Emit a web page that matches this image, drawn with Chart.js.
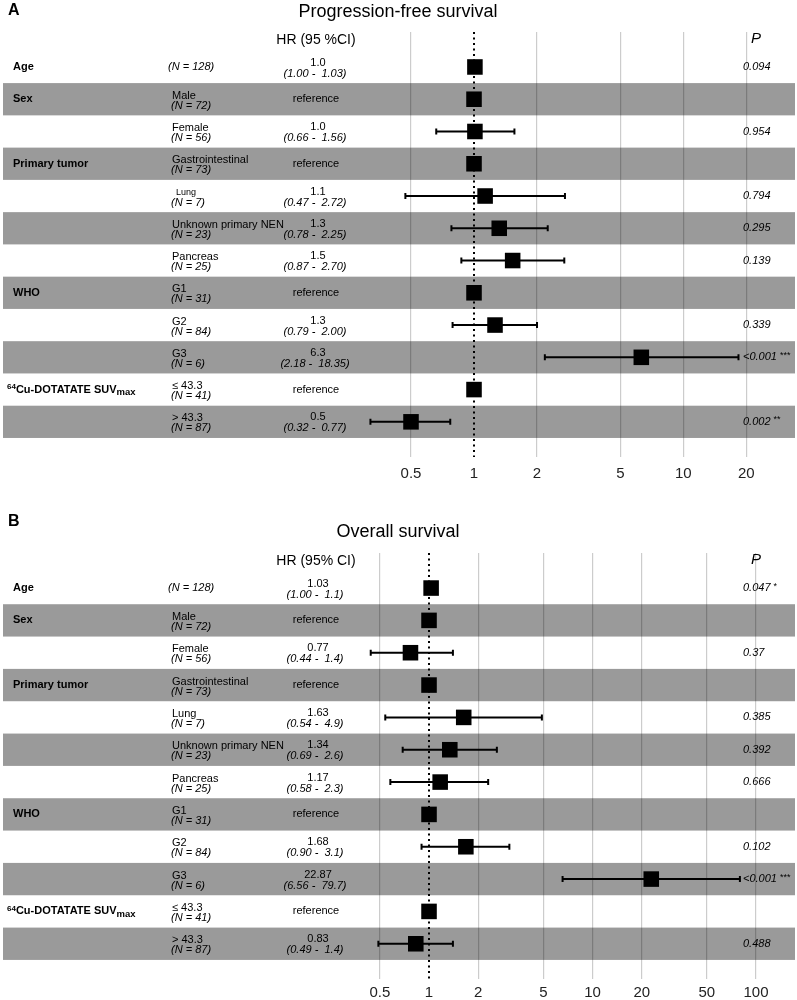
<!DOCTYPE html>
<html>
<head>
<meta charset="utf-8">
<script src="https://cdn.jsdelivr.net/npm/chart.js@4.4.1/dist/chart.umd.min.js"></script>
<style>
body{margin:0;background:#fff;width:797px}
canvas{display:block}
</style>
</head>
<body>
<canvas id="pfs" width="797" height="490"></canvas>
<canvas id="os" width="797" height="510"></canvas>
<script>
// rows, same in both panels
const groups = ['Age','Sex','','Primary tumor','','','','WHO','','','^64^Cu-DOTATATE SUV_max_','']
const subgroups = ['','Male','Female','Gastrointestinal','Lung','Unknown primary NEN','Pancreas','G1','G2','G3','≤ 43.3','> 43.3']
const nCounts = [128,72,56,73,7,23,25,31,84,6,41,87]

// A - progression-free survival
const pfsHR = [1.01,1,1.01,1,1.13,1.32,1.53,1,1.26,6.3,1,0.5]
const pfsHRText = ['1.0','reference','1.0','reference','1.1','1.3','1.5','reference','1.3','6.3','reference','0.5']
const pfsLow = ['1.00',null,'0.66',null,'0.47','0.78','0.87',null,'0.79','2.18',null,'0.32']
const pfsHigh = ['1.03',null,'1.56',null,'2.72','2.25','2.70',null,'2.00','18.35',null,'0.77']
const pfsP = ['0.094','','0.954','','0.794','0.295','0.139','','0.339','<0.001','','0.002']
const pfsStars = ['','','','','','','','','','***','','**']
const pfsTicks = [0.5,1,2,5,10,20]

// B - overall survival
const osHR = [1.03,1,0.77,1,1.63,1.34,1.17,1,1.68,22.87,1,0.83]
const osHRText = ['1.03','reference','0.77','reference','1.63','1.34','1.17','reference','1.68','22.87','reference','0.83']
const osLow = ['1.00',null,'0.44',null,'0.54','0.69','0.58',null,'0.90','6.56',null,'0.49']
const osHigh = ['1.1',null,'1.4',null,'4.9','2.6','2.3',null,'3.1','79.7',null,'1.4']
const osP = ['0.047','','0.37','','0.385','0.392','0.666','','0.102','<0.001','','0.488']
const osStars = ['*','','','','','','','','','***','','']
const osTicks = [0.5,1,2,5,10,20,50,100]

const FONT = '"Liberation Sans", Arial, Helvetica, sans-serif'

// bold label with ^sup^ and _sub_ parts
function richText(ctx, str, x, y){
  const parts = str.match(/\^[^^]+\^|_[^_]+_|[^^_]+/g)
  for(const p of parts){
    let txt = p, size = 11, dy = 0
    if(p[0]=='^'){ txt = p.slice(1,-1); size = 8; dy = -3 }
    else if(p[0]=='_'){ txt = p.slice(1,-1); size = 9.5; dy = 3 }
    ctx.font = `bold ${size}px ${FONT}`
    ctx.fillText(txt, x, y+dy)
    x += ctx.measureText(txt).width
  }
}

function makePanel(id, opt){
  const points = opt.hr.map((v,i)=>({x:v, y:i}))

  const tablePlugin = {
    id: 'table',
    beforeDraw(chart){
      const ctx = chart.ctx, y = chart.scales.y
      ctx.save()
      ctx.fillStyle = '#9a9a9a'
      groups.forEach((g,i)=>{
        if(i%2==0) return
        const top = y.getPixelForValue(i-0.5), bot = y.getPixelForValue(i+0.5)
        ctx.fillRect(3, top, 792, bot-top)
      })
      ctx.restore()
    },
    beforeDatasetsDraw(chart){
      const ctx = chart.ctx, x = chart.scales.x, y = chart.scales.y, area = chart.chartArea
      ctx.save()
      ctx.strokeStyle = '#000'
      ctx.lineWidth = 2
      //dotted line at HR = 1
      ctx.setLineDash([2,3.5])
      const x1 = Math.round(x.getPixelForValue(1))
      ctx.beginPath(); ctx.moveTo(x1, area.top); ctx.lineTo(x1, area.bottom); ctx.stroke()
      ctx.setLineDash([])
      //CI whiskers
      opt.low.forEach((lo,i)=>{
        if(lo==null) return
        const a = x.getPixelForValue(Number(lo))
        const b = x.getPixelForValue(Number(opt.high[i]))
        const yy = y.getPixelForValue(i)
        ctx.beginPath()
        ctx.moveTo(a,yy); ctx.lineTo(b,yy)
        ctx.moveTo(a,yy-3); ctx.lineTo(a,yy+3)
        ctx.moveTo(b,yy-3); ctx.lineTo(b,yy+3)
        ctx.stroke()
      })
      ctx.restore()
    },
    afterDraw(chart){
      const ctx = chart.ctx, y = chart.scales.y
      ctx.save()
      ctx.fillStyle = '#000'
      ctx.textBaseline = 'middle'

      ctx.textAlign = 'left'
      ctx.font = `bold 16px ${FONT}`
      ctx.fillText(opt.letter, 8, opt.letterY)

      ctx.textAlign = 'center'
      ctx.font = `18px ${FONT}`
      ctx.fillText(opt.title, 398, opt.titleY)
      ctx.font = `14px ${FONT}`
      ctx.fillText(opt.hrHeader, 316, opt.headerY)
      ctx.font = `italic 15px ${FONT}`
      ctx.fillText('P', 756, opt.headerY-1)

      groups.forEach((g,i)=>{
        const c = y.getPixelForValue(i)
        ctx.textAlign = 'left'
        if(g) richText(ctx, g, g.startsWith('^') ? 7 : 13, c)

        //subgroup + N
        if(subgroups[i]==''){
          ctx.font = `italic 11px ${FONT}`
          ctx.fillText(`(N = ${nCounts[i]})`, 168, c)
        } else {
          ctx.font = (opt.small==subgroups[i] ? '9px ' : '11px ') + FONT
          ctx.fillText(subgroups[i], opt.small==subgroups[i] ? 176 : 172, c-3.5)
          ctx.font = `italic 11px ${FONT}`
          ctx.fillText(`(N = ${nCounts[i]})`, 171, c+6.5)
        }

        //HR text
        ctx.textAlign = 'center'
        if(opt.hrText[i]=='reference'){
          ctx.font = `11px ${FONT}`
          ctx.fillText('reference', 316, c)
        } else {
          ctx.font = `11px ${FONT}`
          ctx.fillText(opt.hrText[i], 318, c-4.5)
          ctx.font = `italic 11px ${FONT}`
          ctx.fillText(`(${opt.low[i]} -  ${opt.high[i]})`, 315, c+6.5)
        }

        //P value
        ctx.textAlign = 'left'
        if(opt.p[i]){
          ctx.font = `italic 11px ${FONT}`
          ctx.fillText(opt.p[i], 743, c)
          if(opt.stars[i]){
            const w = ctx.measureText(opt.p[i] + ' ').width
            ctx.font = `9px ${FONT}`
            ctx.fillText(opt.stars[i], 743 + w, c-2)
          }
        }
      })
      ctx.restore()
    }
  }

  return new Chart(document.getElementById(id), {
    type: 'scatter',
    data: {
      datasets: [{
        data: points,
        pointStyle: 'rect',
        pointRadius: 11,
        pointHoverRadius: 11,
        backgroundColor: '#000',
        borderColor: '#000',
        borderWidth: 0
      }]
    },
    options: {
      responsive: false,
      animation: false,
      events: [],
      layout: { autoPadding: false, padding: { left: opt.left, top: opt.top, right: 0, bottom: 0 } },
      plugins: { legend: {display:false}, title: {display:false}, tooltip: {enabled:false} },
      scales: {
        x: {
          type: 'logarithmic',
          min: opt.min,
          max: opt.max,
          afterBuildTicks: s => { s.ticks = opt.ticks.map(v => ({value: v})) },
          afterFit: s => { s.height = opt.axisH },
          ticks: {
            callback: v => String(v),
            autoSkip: false,
            maxRotation: 0,
            padding: opt.tickPad,
            color: '#222',
            font: { size: 15, family: FONT }
          },
          grid: {
            color: c => (c.tick && c.tick.value === 1) ? 'rgba(0,0,0,0)' : 'rgba(0,0,0,0.2)',
            lineWidth: 1.2,
            drawTicks: false
          },
          border: { display: false }
        },
        y: {
          type: 'linear',
          display: false,
          reverse: true,
          min: -1.084,
          max: 12.09
        }
      }
    },
    plugins: [tablePlugin]
  })
}

makePanel('pfs', {
  hr: pfsHR, hrText: pfsHRText, low: pfsLow, high: pfsHigh, p: pfsP, stars: pfsStars, ticks: pfsTicks,
  letter: 'A', letterY: 11, title: 'Progression-free survival', titleY: 12,
  hrHeader: 'HR (95 %CI)', headerY: 40, small: 'Lung',
  left: 400, top: 32, min: 0.443, max: 34.93, axisH: 33, tickPad: 8
})

makePanel('os', {
  hr: osHR, hrText: osHRText, low: osLow, high: osHigh, p: osP, stars: osStars, ticks: osTicks,
  letter: 'B', letterY: 32, title: 'Overall survival', titleY: 42,
  hrHeader: 'HR (95% CI)', headerY: 71,
  left: 370, top: 63, min: 0.4355, max: 178.1, axisH: 21, tickPad: 5
})
</script>
</body>
</html>
